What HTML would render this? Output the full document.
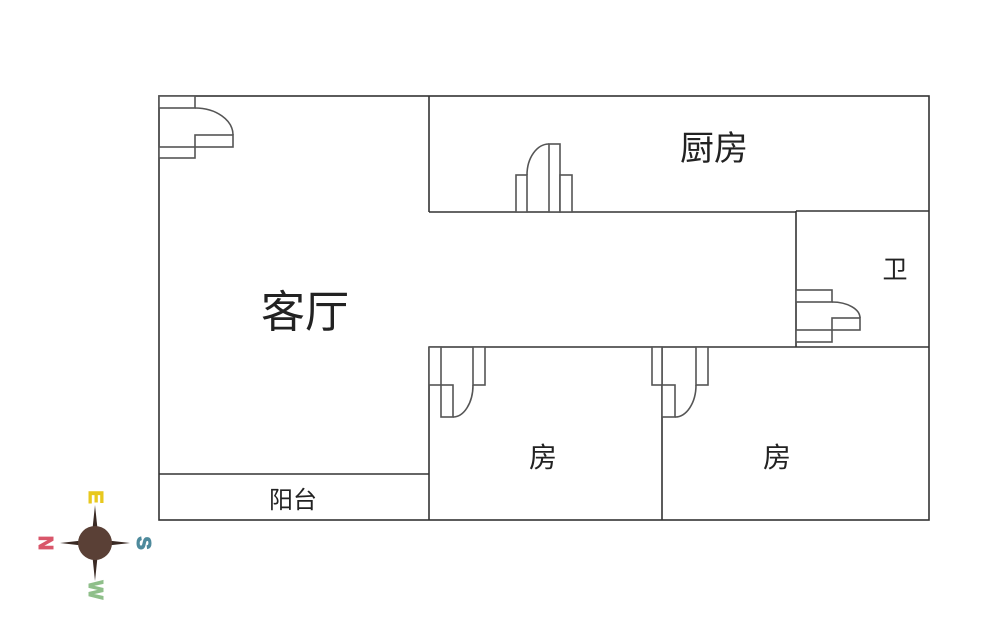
<!DOCTYPE html>
<html><head><meta charset="utf-8"><style>
html,body{margin:0;padding:0;background:#fff;}
svg{display:block;}
text{font-family:"Liberation Sans","Noto Sans CJK SC",sans-serif;fill:#222;}
</style></head><body>
<svg width="1000" height="638" viewBox="0 0 1000 638" xmlns="http://www.w3.org/2000/svg">
<g stroke="#333" stroke-width="1.6" fill="none">
<rect x="159" y="96" width="770" height="424"/>
<line x1="429" y1="96" x2="429" y2="212"/>
<line x1="429" y1="212" x2="796" y2="212"/>
<line x1="796" y1="211" x2="929" y2="211"/>
<line x1="796" y1="211" x2="796" y2="347"/>
<line x1="429" y1="347" x2="929" y2="347"/>
<line x1="429" y1="347" x2="429" y2="520"/>
<line x1="662" y1="347" x2="662" y2="520"/>
<line x1="159" y1="474" x2="429" y2="474"/>
</g>
<g stroke="#555" stroke-width="1.6" fill="#fff">
<rect x="159" y="96" width="36" height="12"/>
<rect x="159" y="147" width="36" height="11"/>
<rect x="195" y="135" width="38" height="12"/>
<path d="M195 108 A38 27 0 0 1 233 135" fill="none"/>
<rect x="516" y="175" width="11" height="37"/>
<rect x="549" y="144" width="11" height="68"/>
<rect x="560" y="175" width="12" height="37"/>
<path d="M527 175 A22 31 0 0 1 549 144" fill="none"/>
<rect x="796" y="290" width="36" height="12"/>
<rect x="796" y="330" width="36" height="12"/>
<rect x="832" y="318" width="28" height="12"/>
<path d="M832 302 A28 16 0 0 1 860 318" fill="none"/>
<rect x="429" y="347" width="12" height="38"/>
<rect x="441" y="385" width="12" height="32"/>
<rect x="473" y="347" width="12" height="38"/>
<path d="M453 417 A20 32 0 0 0 473 385" fill="none"/>
<rect x="652" y="347" width="10" height="38"/>
<rect x="662" y="385" width="13" height="32"/>
<rect x="696" y="347" width="12" height="38"/>
<path d="M675 417 A21 32 0 0 0 696 385" fill="none"/>
</g>
<text x="305" y="327" font-size="44" text-anchor="middle">客厅</text>
<text x="714" y="160" font-size="34" text-anchor="middle">厨房</text>
<text x="895" y="278" font-size="25" text-anchor="middle">卫</text>
<text x="543" y="467" font-size="28" text-anchor="middle">房</text>
<text x="777" y="467" font-size="28" text-anchor="middle">房</text>
<text x="293" y="508" font-size="24" text-anchor="middle">阳台</text>
<g>
<polygon points="95,505 99,543 95,581 91,543" fill="#3a2a24"/>
<polygon points="60,543 95,539 130,543 95,547" fill="#3a2a24"/>
<circle cx="95" cy="543" r="17" fill="#5a4036"/>
<text x="95" y="497" font-size="20" font-weight="bold" style="fill:#e8c81e;stroke:#e8c81e;stroke-width:1" text-anchor="middle" dominant-baseline="central" transform="rotate(90 95 497)">E</text>
<text x="45" y="543" font-size="20" font-weight="bold" style="fill:#d9566a;stroke:#d9566a;stroke-width:1" text-anchor="middle" dominant-baseline="central" transform="rotate(90 45 543)">N</text>
<text x="143" y="543" font-size="20" font-weight="bold" style="fill:#4e8a9c;stroke:#4e8a9c;stroke-width:1" text-anchor="middle" dominant-baseline="central" transform="rotate(90 143 543)">S</text>
<text x="95" y="590" font-size="20" font-weight="bold" style="fill:#8fbf8a;stroke:#8fbf8a;stroke-width:1" text-anchor="middle" dominant-baseline="central" transform="rotate(90 95 590)">W</text>
</g>
</svg>
</body></html>
